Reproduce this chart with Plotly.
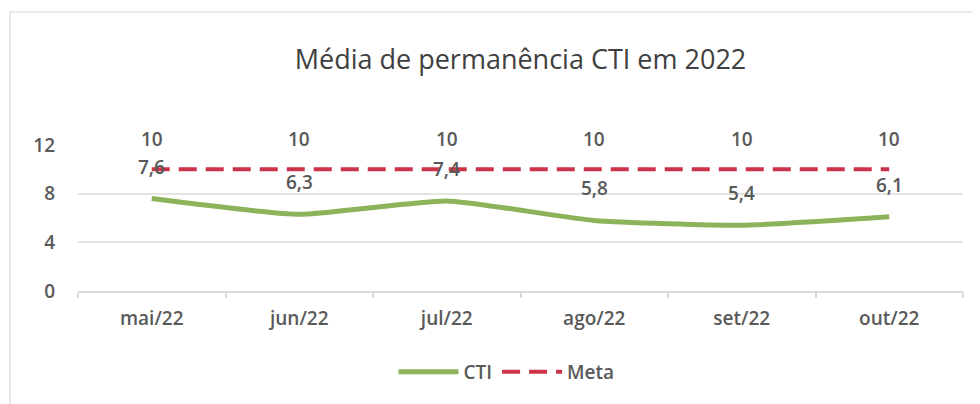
import plotly.graph_objects as go

months = ["mai/22", "jun/22", "jul/22", "ago/22", "set/22", "out/22"]
cti = [7.6, 6.3, 7.4, 5.8, 5.4, 6.1]
meta = [10, 10, 10, 10, 10, 10]
cti_labels = ["7,6", "6,3", "7,4", "5,8", "5,4", "6,1"]
meta_labels = ["10", "10", "10", "10", "10", "10"]
y_ticks = [0, 4, 8, 12]

FONT = "Open Sans"
TXT = "#595959"

# page body has an 8px margin; figure laid out relative to (8, 8)
W, H = 972, 396
L, R, T, B = 70, 17, 137, 113
PW = W - L - R
PH = H - T - B

fig = go.Figure()
fig.add_trace(go.Scatter(
    x=months, y=cti, name="CTI", mode="lines",
    line=dict(color="#8db35a", width=5, shape="spline", smoothing=0.5),
))
fig.add_trace(go.Scatter(
    x=months, y=meta, name="Meta", mode="lines",
    line=dict(color="#cc3349", width=4, dash="18px,9px"),
))

for m, v, t in zip(months, cti, cti_labels):
    fig.add_annotation(x=m, y=v, text=t, showarrow=False, yshift=32,
                       font=dict(family=FONT, size=19, color=TXT, weight=600))
for m, v, t in zip(months, meta, meta_labels):
    fig.add_annotation(x=m, y=v, text=t, showarrow=False, yshift=30,
                       font=dict(family=FONT, size=19, color=TXT, weight=600))

fig.add_shape(type="rect", xref="paper", yref="paper",
              x0=(2 - L) / PW, x1=(967 - L) / PW,
              y0=-(H + 10 - (H - B)) / PH, y1=((H - B) - 4) / PH,
              line=dict(color="#e4e4e4", width=1.5))

fig.update_layout(
    width=W, height=H,
    margin=dict(l=L, r=R, t=T, b=B),
    paper_bgcolor="white", plot_bgcolor="white",
    title=dict(text="Média de permanência CTI em 2022", x=0.5, xanchor="center",
               xref="paper", y=1 - 52 / H, yanchor="middle",
               font=dict(family=FONT, size=27, color="#404040")),
    font=dict(family=FONT, color=TXT),
    showlegend=True,
    legend=dict(orientation="h", x=0.5 - 14 / PW, xanchor="center",
                y=-(364 - (H - B)) / PH, yanchor="middle",
                font=dict(family=FONT, size=19, color=TXT, weight=600),
                itemwidth=60, bgcolor="rgba(0,0,0,0)"),
)
fig.update_xaxes(range=[-0.5, 5.5], showgrid=False, showline=True, linecolor="#d9d9d9",
                 linewidth=1.5, ticks="outside", tickson="boundaries", ticklen=5,
                 tickcolor="#d9d9d9", tickwidth=1.5,
                 tickfont=dict(family=FONT, size=19, color=TXT, weight=600),
                 ticklabelstandoff=9)
fig.update_yaxes(range=[0, 12], tickvals=y_ticks, showgrid=True, gridcolor="#e4e4e4",
                 gridwidth=1.5, zeroline=False, showline=False,
                 tickfont=dict(family=FONT, size=19, color=TXT, weight=600),
                 ticklabelstandoff=22)

fig.write_html("out.html")
